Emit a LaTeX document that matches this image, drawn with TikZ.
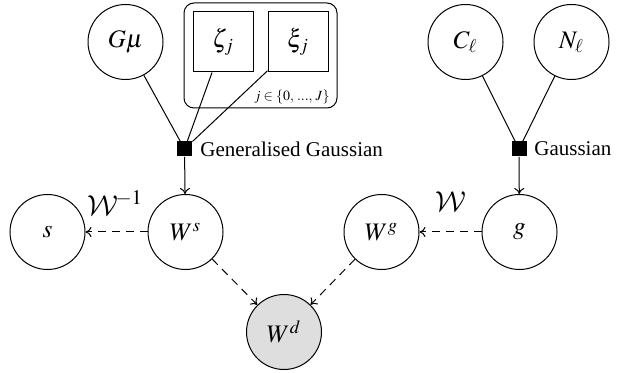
\documentclass[tikz,border=0pt]{standalone}
\usepackage{mathptmx}
\usepackage{fontspec}
\setmainfont{Liberation Serif}
\DeclareMathAlphabet{\cmcal}{OMS}{cmsy}{m}{n}
\usetikzlibrary{arrows.meta}
\begin{document}
\begin{tikzpicture}[x=0.5pt,y=-0.5pt,
  every node/.style={inner sep=0pt},
  latent/.style={circle,draw,line width=0.5pt,minimum size=37.5pt,font=\fontsize{12.6}{14}\selectfont},
  observed/.style={latent,fill=black!13},
  parambox/.style={rectangle,draw,line width=0.5pt,minimum size=30pt,font=\fontsize{12.6}{14}\selectfont},
  platebox/.style={rectangle,draw,line width=0.5pt,rounded corners=5pt,minimum width=76.5pt,minimum height=52.5pt},
  factor/.style={rectangle,fill=black,minimum size=7.5pt},
  factext/.style={anchor=west,font=\fontsize{10.5}{12}\selectfont},
  maplabel/.style={font=\fontsize{14}{16}\selectfont},
  link/.style={line width=0.5pt},
  arr/.style={link,-{To[length=3pt,width=5pt]}},
  dasharr/.style={arr,dash pattern=on 4pt off 3pt}
]
\useasboundingbox (0,0) rectangle (635,373);
% top row
\node[latent] (Gmu) at (125.5,42) {$G\mu$};
\node[platebox] (plate) at (260.5,55.5) {};
\node[parambox] (zeta) at (223,42) {$\zeta_j$};
\node[parambox] (xi) at (298,42) {$\xi_j$};
\node[anchor=east,font=\fontsize{7}{8}\selectfont] (jrange) at (330,97) {$j\in\{0,\,...,\,J\}$};
\node[latent] (Cl) at (465.5,42) {$C_\ell$};
\node[latent] (Nl) at (571.5,42) {$N_\ell$};
% factors
\node[factor] (gg) at (184.5,149) {};
\node[factext] (ggtext) at (200,149) {Generalised Gaussian};
\node[factor] (ga) at (519,149) {};
\node[factext] (gatext) at (534,149) {Gaussian};
% middle row
\node[latent] (s) at (47.5,232) {$s$};
\node[latent] (Ws) at (185.5,232) {$W^s$};
\node[latent] (Wg) at (381.5,232) {$W^g$};
\node[latent] (g) at (519.5,232) {$g$};
% bottom
\node[observed] (Wd) at (284,332) {$W^d$};
% map labels
\node[maplabel] (winv) at (115,203) {$\cmcal{W}^{\!-1}$};
\node[maplabel] (wfwd) at (451,202) {$\cmcal{W}$};
% connections
\draw[link] (Gmu) -- (gg);
\draw[link] (zeta) -- (gg);
\draw[link] (xi) -- (gg);
\draw[link] (Cl) -- (ga);
\draw[link] (Nl) -- (ga);
\draw[arr] (gg) -- (Ws);
\draw[arr] (ga) -- (g);
\draw[dasharr] (Ws) -- (s);
\draw[dasharr] (g) -- (Wg);
\draw[dasharr] (Ws) -- (Wd);
\draw[dasharr] (Wg) -- (Wd);
\end{tikzpicture}
\end{document}
